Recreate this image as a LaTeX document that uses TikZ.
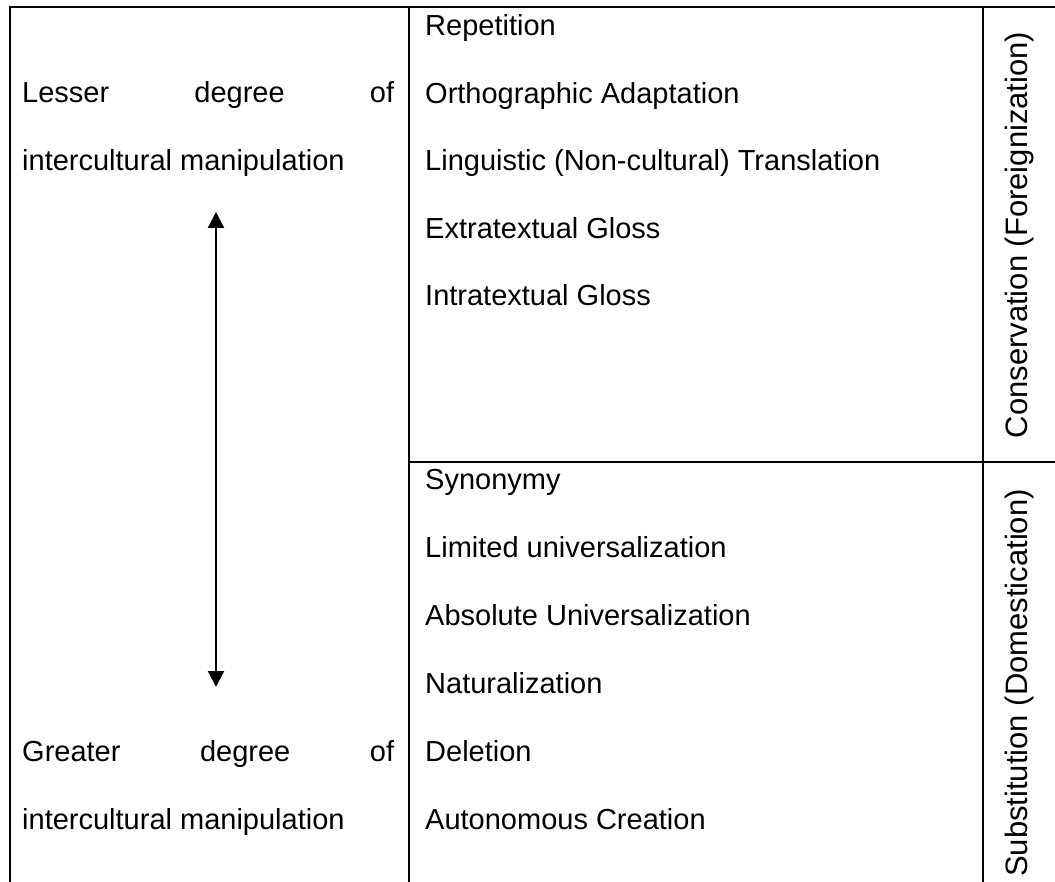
\documentclass[tikz,border=0pt]{standalone}
\usepackage{fontspec}
\setmainfont{Liberation Sans}
\usetikzlibrary{arrows.meta}

\begin{document}
\begin{tikzpicture}[
    x=1pt, y=-1pt,
    every node/.style={inner sep=0pt, font=\fontsize{29}{35}\selectfont},
    item/.style={anchor=base west},
    side/.style={anchor=base, rotate=90, font=\fontsize{31}{37}\selectfont},
    rule/.style={line width=2.4pt},
    degarrow/.style={line width=2.2pt, {Triangle[length=16pt,width=16pt]}-{Triangle[length=16pt,width=16pt]}}]

\useasboundingbox (0,0) rectangle (1055,882);

% table lines
\draw[rule] (10,882) -- (10,7) -- (1055,7);
\draw[rule] (409,7) -- (409,882);
\draw[rule] (983,7) -- (983,882);
\draw[rule] (409,462) -- (1055,462);

% left column
\node[item] (lesser) at (22,103) {\makebox[372pt][s]{Lesser degree of}};
\node[item] (lessman) at (22,171) {intercultural manipulation};
\node[item] (greater) at (22,761) {\makebox[372pt][s]{Greater degree of}};
\node[item] (greatman) at (22,829) {intercultural manipulation};

\coordinate (uptip) at (216,212);
\coordinate (downtip) at (216,687);
\draw[degarrow] (uptip) -- (downtip);

% conservation strategies
\node[item] (rep) at (425,36) {Repetition};
\node[item] (ortho) at (425,103.5) {Orthographic Adaptation};
\node[item] (ling) at (425,171) {Linguistic (Non-cultural) Translation};
\node[item] (extra) at (425,238.5) {Extratextual Gloss};
\node[item] (intra) at (425,306) {Intratextual Gloss};

% substitution strategies
\node[item] (syn) at (425,489) {Synonymy};
\node[item] (limuni) at (425,557) {Limited universalization};
\node[item] (absuni) at (425,625) {Absolute Universalization};
\node[item] (nat) at (425,693) {Naturalization};
\node[item] (del) at (425,761) {Deletion};
\node[item] (auto) at (425,829) {Autonomous Creation};

% side labels
\node[side] (cons) at (1027,235) {Conservation (Foreignization)};
\node[side] (subst) at (1027,683) {Substitution (Domestication)};

\end{tikzpicture}
\end{document}
